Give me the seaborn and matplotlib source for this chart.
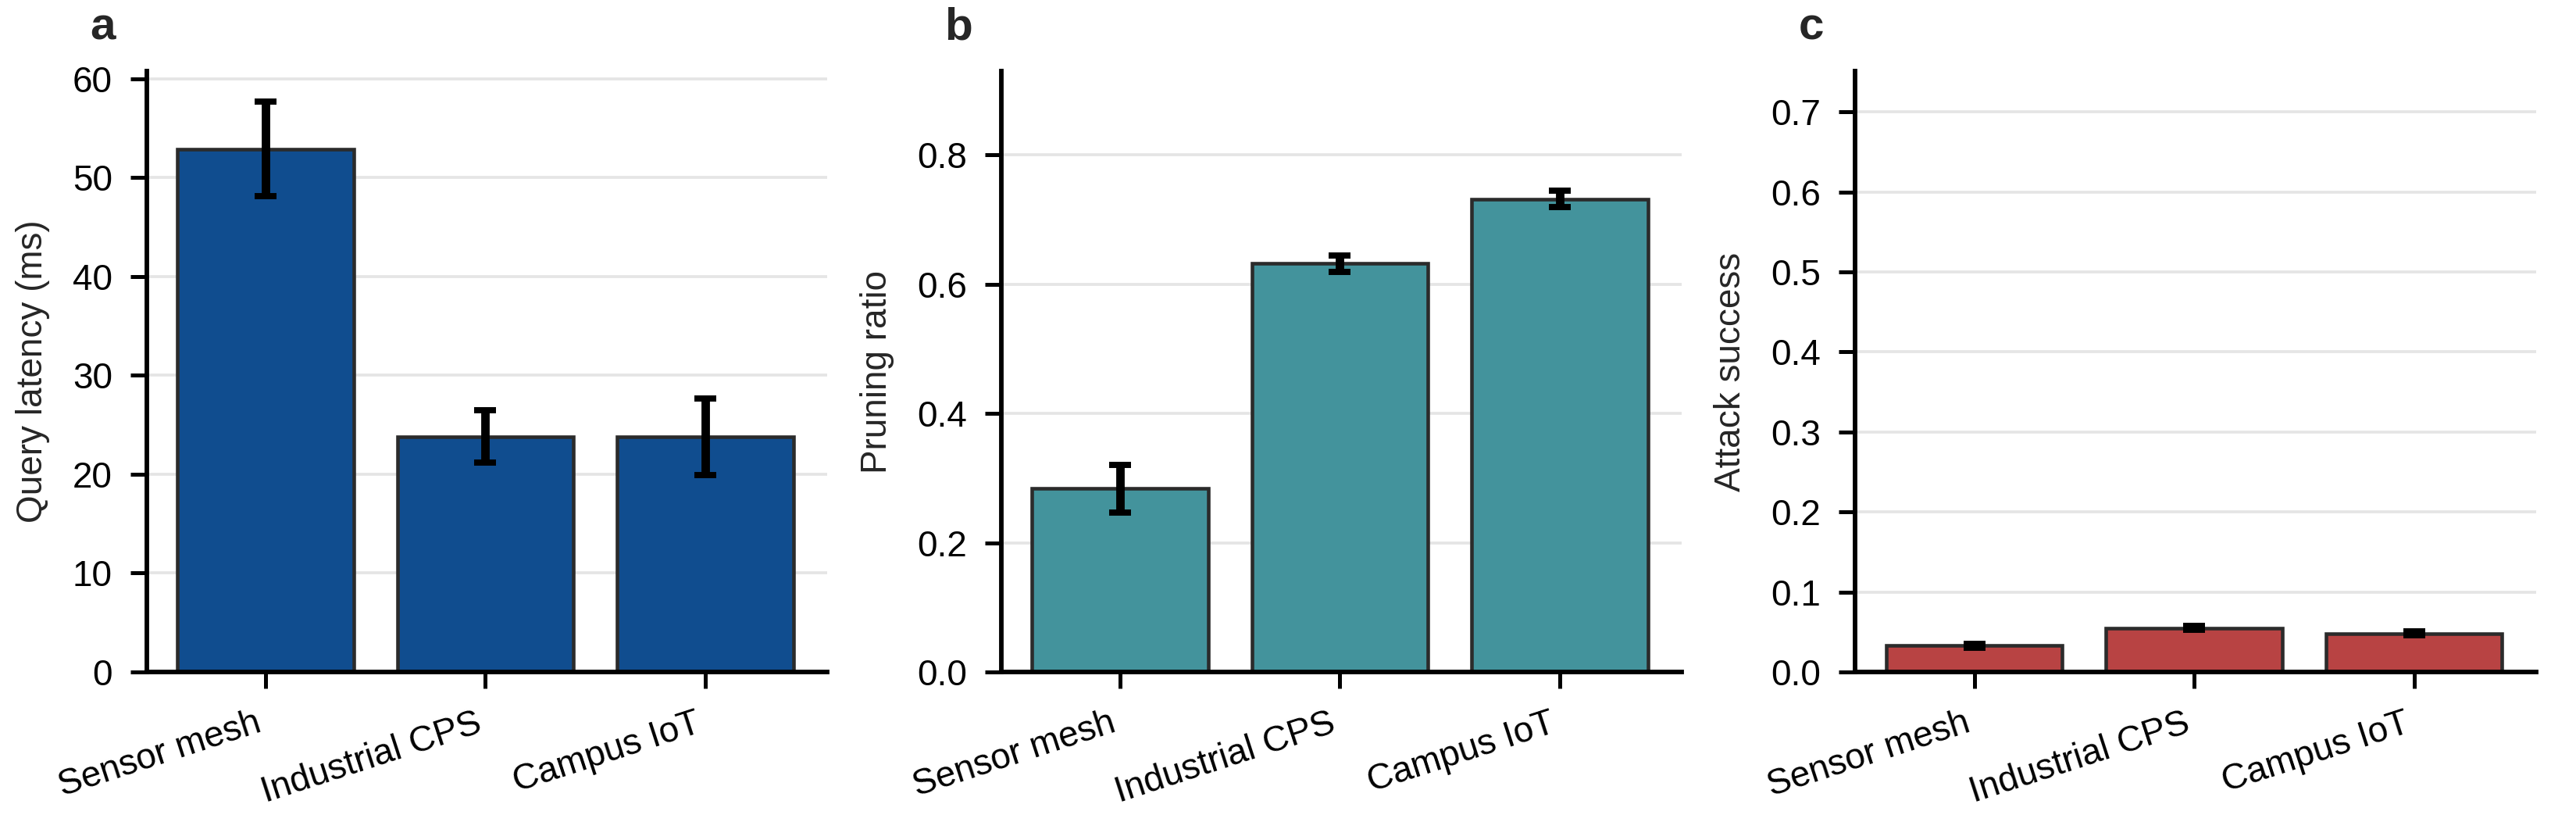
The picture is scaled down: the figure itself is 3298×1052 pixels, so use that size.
import numpy as np
import pandas as pd
import matplotlib
matplotlib.use("Agg")
import matplotlib.pyplot as plt
import seaborn as sns

# values
scenarios = ["Sensor mesh", "Industrial CPS", "Campus IoT"]
latency_mean = [52.9, 23.8, 23.8]
latency_err = [4.8, 2.65, 3.85]
pruning_mean = [0.284, 0.632, 0.732]
pruning_err = [0.037, 0.0125, 0.0125]
attack_mean = [0.033, 0.055, 0.048]
attack_err = [0.0025, 0.0025, 0.0025]

sns.set_style("white")
plt.rcParams["font.family"] = ["Liberation Sans", "DejaVu Sans"]

fig = plt.figure(figsize=(3298 / 300, 1052 / 300), dpi=300)

panels = [
    ("a", latency_mean, latency_err, "#104d8f", "Query latency (ms)", 60.77, np.arange(0, 61, 10)),
    ("b", pruning_mean, pruning_err, "#43939c", "Pruning ratio", 0.93, np.arange(0, 0.81, 0.2)),
    ("c", attack_mean, attack_err, "#b84343", "Attack success", 0.751, np.arange(0, 0.71, 0.1)),
]
lefts = [0.0569, 0.3886, 0.7202]

for left, (letter, mean, err, color, ylabel, ytop, yticks) in zip(lefts, panels):
    ax = fig.add_axes([left, 0.1825, 0.2642, 0.731])
    df = pd.DataFrame({"scenario": scenarios, "value": mean})
    sns.barplot(data=df, x="scenario", y="value", color=color, saturation=1,
                edgecolor="#2b2b2b", linewidth=1.1, width=0.8, errorbar=None, ax=ax, zorder=2)
    ax.errorbar(np.arange(len(scenarios)), mean, yerr=err, fmt="none", ecolor="black",
                elinewidth=2.6, capsize=3.4, capthick=1.9, zorder=3)
    ax.set_xlim(-0.541, 2.554)
    ax.set_ylim(0, ytop)
    ax.set_yticks(yticks)
    if letter == "a":
        ax.set_yticklabels([f"{int(t)}" for t in yticks])
    else:
        ax.set_yticklabels([f"{t:.1f}" for t in yticks])
    ax.yaxis.grid(True, color="#e5e5e5", linewidth=0.9, zorder=0)
    ax.set_axisbelow(True)
    sns.despine(ax=ax)
    for s in ["left", "bottom"]:
        ax.spines[s].set_linewidth(1.4)
        ax.spines[s].set_color("black")
    ax.tick_params(axis="both", length=5, width=1.2, labelsize=11, pad=5.5,
                   left=True, bottom=True, colors="black")
    ax.set_xlabel("")
    ax.set_ylabel(ylabel, fontsize=11, labelpad=7)
    plt.setp(ax.get_xticklabels(), rotation=18, ha="right")
    ax.text(-0.083, 1.053, letter, transform=ax.transAxes, fontsize=14,
            fontweight="bold", va="baseline", ha="left")

fig.savefig("out.png", dpi=300)
